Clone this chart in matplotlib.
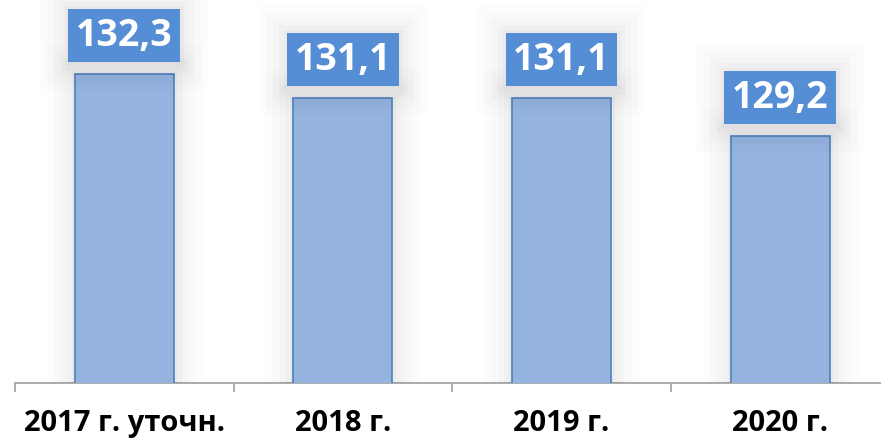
import matplotlib
matplotlib.use("Agg")
import matplotlib.pyplot as plt
import matplotlib.patheffects as pe
import numpy as np

categories = ["2017 г. уточн.", "2018 г.", "2019 г.", "2020 г."]
values = [132.3, 131.1, 131.1, 129.2]
value_labels = ["132,3", "131,1", "131,1", "129,2"]

W, H = 881, 441
fig = plt.figure(figsize=(W / 100, H / 100), dpi=100)
fig.patch.set_facecolor("white")

cat_px = 218.6
ax = fig.add_axes([15 / W, 58 / H, 4 * cat_px / W, 383 / H])
ax.set_facecolor("none")

FAM = ["Open Sans", "DejaVu Sans"]

x = np.arange(len(categories))
glow = [pe.Stroke(linewidth=40, foreground="#000000", alpha=0.01),
        pe.Stroke(linewidth=30, foreground="#000000", alpha=0.013),
        pe.Stroke(linewidth=20, foreground="#000000", alpha=0.016),
        pe.Stroke(linewidth=12, foreground="#000000", alpha=0.02),
        pe.Stroke(linewidth=5, foreground="#000000", alpha=0.025),
        pe.Normal()]
bars = ax.bar(x, values, width=0.453, color="#94b3df", edgecolor="#4f81bd",
              linewidth=1.2, zorder=3)
for b in bars:
    b.set_path_effects(glow)

ax.set_xlim(-0.5, 3.5)
ax.set_ylim(116.88, 135.99)

for s in ["top", "right", "left"]:
    ax.spines[s].set_visible(False)
ax.spines["bottom"].set_color("#a6a6a6")
ax.spines["bottom"].set_linewidth(1.3)
ax.set_yticks([])

ax.set_xticks(x)
ax.set_xticklabels(categories, fontsize=21, fontweight="bold",
                   family=FAM, color="black")
ax.tick_params(axis="x", which="major", length=0, pad=19)
ax.set_xticks(np.arange(-0.5, 4.0, 1.0), minor=True)
ax.tick_params(axis="x", which="minor", length=6.5, width=1.3,
               color="#a6a6a6", direction="out")

for xi, v, lab in zip(x, values, value_labels):
    t = ax.annotate(lab, xy=(xi, v), xytext=(0, 14), textcoords="offset points",
                    ha="center", va="bottom", fontsize=27, fontweight="bold",
                    family=FAM, color="white", zorder=5,
                    bbox=dict(boxstyle="square,pad=0.2", fc="#558ed5", ec="none"))
    t.get_bbox_patch().set_path_effects(glow)

fig.savefig("out.png", dpi=100, facecolor="white")
